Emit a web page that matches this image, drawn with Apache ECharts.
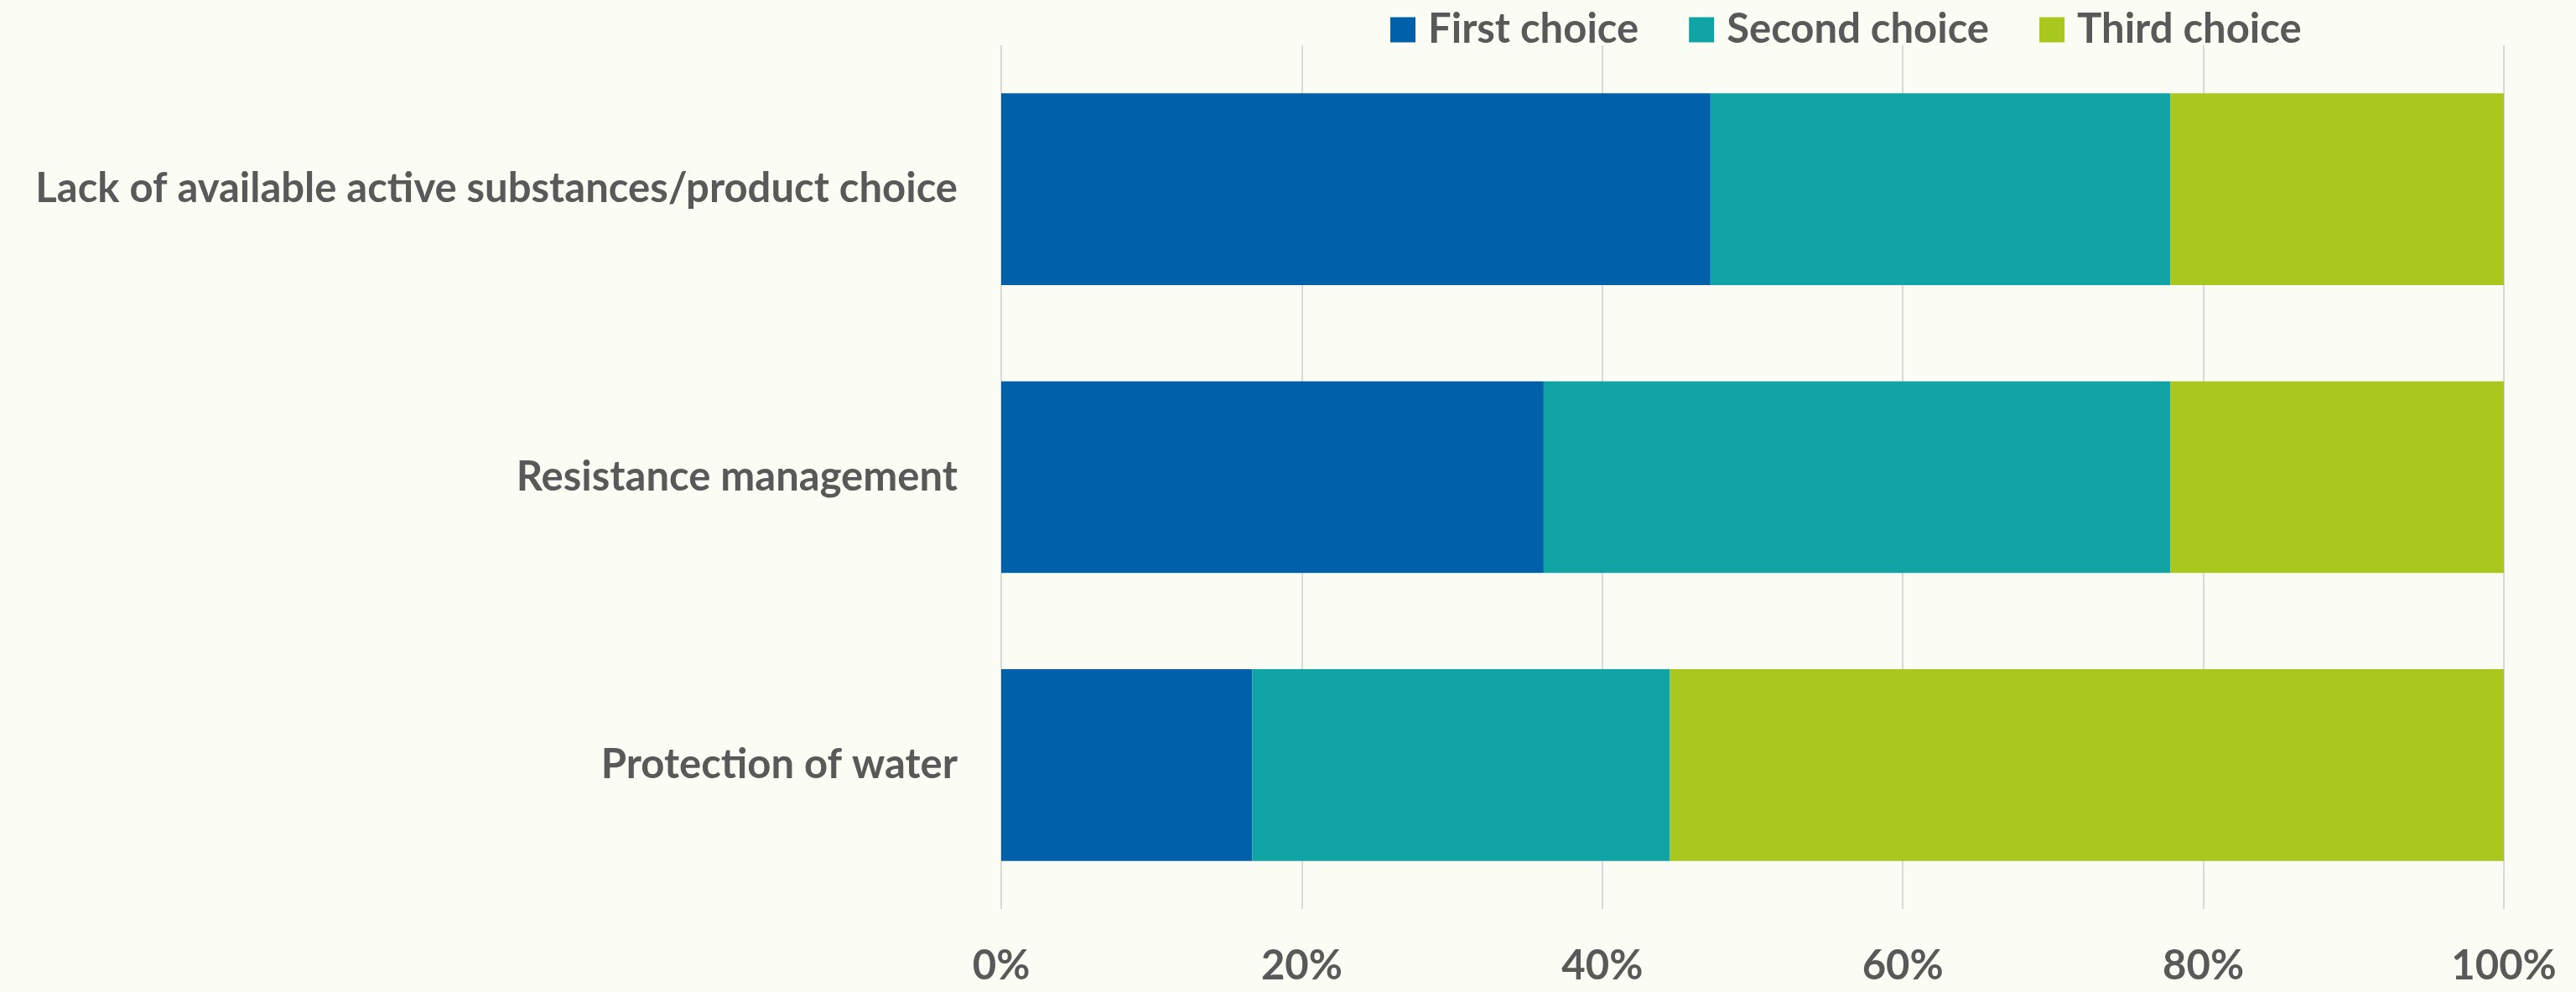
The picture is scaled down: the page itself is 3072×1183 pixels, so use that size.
<!DOCTYPE html>
<html>
<head>
<meta charset="utf-8">
<script src="https://cdn.jsdelivr.net/npm/echarts@6/dist/echarts.min.js"></script>
<style>
  html, body { margin: 0; padding: 0; background: #FBFCF3; }
  #chart { width: 3072px; height: 1183px; }
</style>
</head>
<body>
<div id="chart"></div>
<script>
// Survey answers: share of respondents (%) ranking each concern as 1st / 2nd / 3rd choice
const categories = [
  'Lack of available active substances/product choice',
  'Resistance management',
  'Protection of water'
];
const firstChoice  = [47.2, 36.1, 16.7];
const secondChoice = [30.6, 41.7, 27.8];
const thirdChoice  = [22.2, 22.2, 55.5];
const xTicks = [0, 20, 40, 60, 80, 100];

const FONT = 'Lato';
const TEXT = '#595959';
const FS = 49;

const seriesDefs = [
  { name: 'First choice',  data: firstChoice,  color: '#0060AA' },
  { name: 'Second choice', data: secondChoice, color: '#10A4A4' },
  { name: 'Third choice',  data: thirdChoice,  color: '#A8C820' }
];

const chart = echarts.init(document.getElementById('chart'));
chart.setOption({
  backgroundColor: '#FBFCF3',
  animation: false,
  textStyle: { fontFamily: FONT },
  legend: {
    left: 1653,
    top: 6,
    icon: 'rect',
    itemWidth: 30,
    itemHeight: 30,
    itemGap: 60,
    textStyle: {
      color: TEXT, fontSize: FS, fontWeight: 'bold', fontFamily: FONT,
      padding: [0, 0, 0, 10]
    },
    data: seriesDefs.map(s => s.name)
  },
  grid: { left: 1194, right: 86, top: 54, bottom: 99, containLabel: false },
  xAxis: {
    type: 'value',
    min: xTicks[0],
    max: xTicks[xTicks.length - 1],
    interval: xTicks[1] - xTicks[0],
    axisLine: { show: false },
    axisTick: { show: false },
    splitLine: { show: true, lineStyle: { color: '#D9D9D9', width: 2 } },
    axisLabel: {
      formatter: v => v + '%',
      color: TEXT, fontSize: FS, fontWeight: 'bold', fontFamily: FONT,
      margin: 44
    }
  },
  yAxis: {
    type: 'category',
    data: categories,
    inverse: true,
    axisLine: { show: false },
    axisTick: { show: false },
    splitLine: { show: false },
    axisLabel: {
      color: TEXT, fontSize: FS, fontWeight: 'bold', fontFamily: FONT,
      margin: 52
    }
  },
  series: seriesDefs.map(s => ({
    name: s.name,
    type: 'bar',
    stack: 'total',
    barCategoryGap: '33.4%',
    data: s.data,
    itemStyle: { color: s.color },
    emphasis: { disabled: true }
  }))
});
</script>
</body>
</html>
